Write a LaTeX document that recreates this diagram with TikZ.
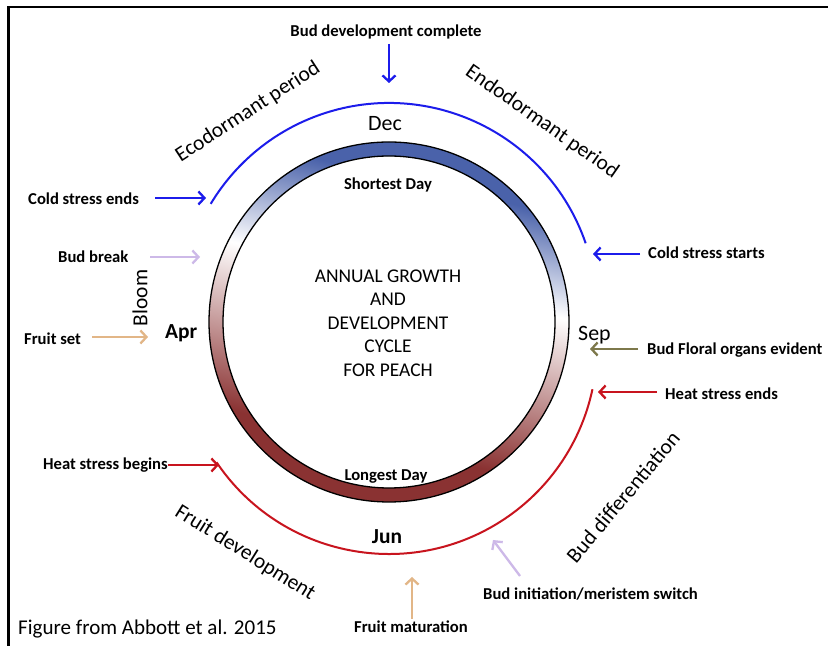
\documentclass[tikz,border=0pt]{standalone}
\usepackage{fontspec}
\setmainfont{Carlito}
\usetikzlibrary{arrows.meta}
\definecolor{arcblue}{RGB}{28,28,235}
\definecolor{arcred}{RGB}{200,20,30}
\definecolor{lilac}{RGB}{205,185,232}
\definecolor{peachtan}{RGB}{226,182,135}
\definecolor{budolive}{RGB}{125,120,75}
\definecolor{ringblue}{RGB}{74,98,170}
\definecolor{ringred}{RGB}{138,50,50}
\pgfdeclareverticalshading{ringshade}{100bp}{color(0bp)=(ringred); color(33bp)=(ringred); color(56bp)=(white); color(70bp)=(ringblue); color(100bp)=(ringblue)}
\newcommand\LblFont{\bfseries\fontsize{16.7}{20}\selectfont}
\newcommand\MonFont{\fontsize{22}{26}\selectfont}
\newcommand\MonBFont{\bfseries\fontsize{21.5}{26}\selectfont}
\newcommand\PhaseFont{\fontsize{21.5}{26}\selectfont}
\newcommand\CtrFont{\fontsize{19.5}{23.6}\selectfont}
\begin{document}
\begin{tikzpicture}[x=1bp,y=1bp,
  lbl/.style={font=\LblFont, inner sep=0pt, text=black},
  mon/.style={font=\MonFont, inner sep=0pt},
  monb/.style={font=\MonBFont, inner sep=0pt},
  phase/.style={font=\PhaseFont, inner sep=0pt},
  arr/.style={line width=2.3bp, line join=round, -{Straight Barb[length=6bp,width=13bp,line width=2.3bp]}},
  period/.style={line width=2bp}]
\useasboundingbox (0,0) rectangle (828,646);
\fill[white] (0,0) rectangle (828,646);
% frame
\draw[line width=2.5bp] (8.7,0) -- (8.7,639) -- (828,639);
% ring
\coordinate (c) at (389,324);
\shade[shading=ringshade, shading angle=-13, even odd rule] (c) circle (180) (c) circle (166);
\draw[line width=1.3bp] (c) circle (180);
\draw[line width=1.3bp] (c) circle (166);
% period arcs
\coordinate (bc) at (389,335);
\coordinate (rc) at (389,300);
\draw[period, arcblue] ([shift={(19:208)}]bc) arc (19:149:208);
\draw[period, arcred] ([shift={(214:208)}]rc) arc (214:348:208);
% centre
\node[font=\CtrFont, align=center, inner sep=0pt] (title) at (388,323) {ANNUAL GROWTH\\AND\\DEVELOPMENT\\CYCLE\\FOR PEACH};
\node[lbl, anchor=base] (short) at (388,456.7) {Shortest Day};
\node[lbl, anchor=base] (long) at (386,165.3) {Longest Day};
% months
\node[mon, anchor=base] (dec) at (385,515.3) {Dec};
\node[mon, anchor=base west] (sep) at (578,305.3) {Sep};
\node[monb, anchor=base west] (apr) at (165,307.7) {Apr};
\node[monb, anchor=base] (jun) at (387,102) {Jun};
% phases
\node[phase, rotate=33] (eco) at (248,534) {Ecodormant period};
\node[phase, rotate=-35] (endo) at (542,524) {Endodormant period};
\node[phase, rotate=50] (bdiff) at (623,149) {Bud differentiation};
\node[phase, rotate=-32] (fdev) at (245,93) {Fruit development};
\node[phase, rotate=90] (bloom) at (140,348) {Bloom};
% event labels
\node[lbl, anchor=base] (bdc) at (386,609.5) {Bud development complete};
\node[lbl, anchor=base west] (cse) at (28,441.7) {Cold stress ends};
\node[lbl, anchor=base west] (bb) at (58,383.7) {Bud break};
\node[lbl, anchor=base west] (fs) at (24,301) {Fruit set};
\node[lbl, anchor=base west] (css) at (648,387) {Cold stress starts};
\node[lbl, anchor=base west] (bfo) at (647,291.7) {Bud Floral organs evident};
\node[lbl, anchor=base west] (hse) at (665,246.7) {Heat stress ends};
\node[lbl, anchor=base east] (hsb) at (168,176) {Heat stress begins};
\node[lbl, anchor=base] (fm) at (411,13) {Fruit maturation};
\node[lbl, anchor=base west] (bi) at (483,46) {Bud initiation/meristem switch};
\node[font=\fontsize{21.1}{25}\selectfont, anchor=base west, inner sep=0pt] (fig) at (18,11) {Figure from Abbott et al. 2015};
% arrow end points
\coordinate (bdcS) at (389,602); \coordinate (bdcE) at (389,563);
\coordinate (cseS) at (155,448); \coordinate (cseE) at (206,448);
\coordinate (bbS) at (150,389); \coordinate (bbE) at (200,389);
\coordinate (fsS) at (92,309); \coordinate (fsE) at (148,309);
\coordinate (cssS) at (640,392); \coordinate (cssE) at (593,392);
\coordinate (bfoS) at (638,297); \coordinate (bfoE) at (590,297);
\coordinate (hseS) at (657,254); \coordinate (hseE) at (598,254);
\coordinate (hsbE) at (219,181);
\coordinate (fmS) at (412,27); \coordinate (fmE) at (412,69);
\coordinate (biS) at (520,70); \coordinate (biE) at (493,106);
% arrows
\draw[arr, arcblue] (bdcS) -- (bdcE);
\draw[arr, arcblue] (cseS) -- (cseE);
\draw[arr, lilac] (bbS) -- (bbE);
\draw[arr, peachtan] (fsS) -- (fsE);
\draw[arr, arcblue] (cssS) -- (cssE);
\draw[arr, budolive] (bfoS) -- (bfoE);
\draw[arr, arcred] (hseS) -- (hseE);
\draw[arr, arcred, line width=2bp] (hsb.east |- hsbE) -- (hsbE);
\draw[arr, peachtan] (fmS) -- (fmE);
\draw[arr, lilac] (biS) -- (biE);
\end{tikzpicture}
\end{document}
